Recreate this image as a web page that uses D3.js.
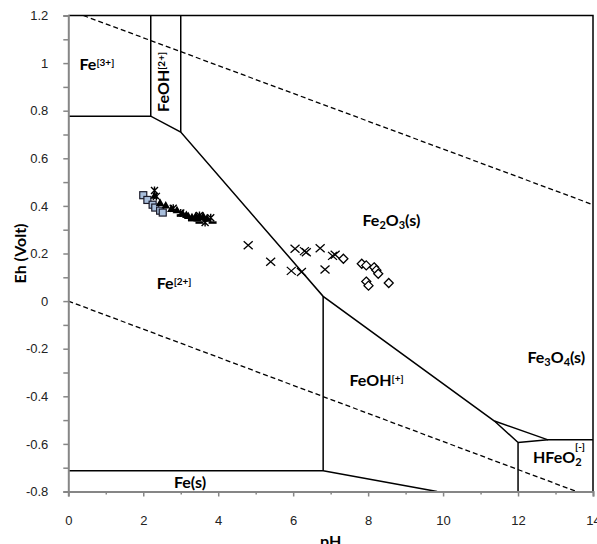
<!DOCTYPE html>
<html lang="en">
<meta charset="utf-8">
<style>
body {
  margin: 0;
  background: #fff;
  font-family: Lato, 'Open Sans', sans-serif;
}
.tick text {
  font-size: 13px;
  fill: #222;
}
.lbl {
  font-weight: bold;
  font-size: 16px;
  fill: #000;
}
</style>
<body>
<div id="chart"></div>
<script src="https://d3js.org/d3.v7.min.js"></script>
<script>

// ---- data (pH, Eh) ----
var squarePH = [2.0, 2.11, 2.25, 2.32, 2.45, 2.52];
var squareEh = [0.445, 0.425, 0.405, 0.393, 0.38, 0.372];

var trianglePH = [2.3, 2.45, 2.6, 2.75, 2.9, 3.05, 3.15, 3.2, 3.3, 3.4, 3.45, 3.5, 3.6, 3.7];
var triangleEh = [0.44, 0.41, 0.40, 0.385, 0.38, 0.365, 0.36, 0.355, 0.35, 0.355, 0.345, 0.35, 0.355, 0.345];

var starPH = [2.3, 2.35, 2.8, 3.0, 3.5, 3.65, 3.8];
var starEh = [0.465, 0.44, 0.39, 0.37, 0.36, 0.33, 0.35];

var dashPH = [3.0, 3.3, 3.5, 3.7, 3.85];
var dashEh = [0.36, 0.34, 0.33, 0.34, 0.33];

var crossPH = [4.8, 5.4, 6.05, 6.3, 6.35, 5.95, 6.22, 6.72, 6.85, 7.05, 7.12];
var crossEh = [0.235, 0.165, 0.22, 0.21, 0.205, 0.127, 0.122, 0.222, 0.133, 0.19, 0.195];

var diamondPH = [7.34, 7.83, 7.95, 8.16, 8.22, 8.27, 7.95, 8.01, 8.55];
var diamondEh = [0.178, 0.157, 0.15, 0.142, 0.13, 0.115, 0.082, 0.065, 0.076];

// stability field boundaries
var boundaries = [
  [[0, 0.777], [2.2, 0.777], [3.0, 0.71], [6.8, 0.02], [11.37, -0.504], [12.0, -0.594]],
  [[2.2, 0.777], [2.2, 1.2]],
  [[3.0, 0.71], [3.0, 1.2]],
  [[6.8, 0.02], [6.8, -0.713]],
  [[0, -0.713], [6.8, -0.713], [9.84, -0.8]],
  [[11.37, -0.504], [12.8, -0.583], [14, -0.583]],
  [[12.0, -0.594], [12.8, -0.583]],
  [[12.0, -0.594], [12.0, -0.8]],
  [[0, 1.2], [14, 1.2], [14, -0.8]]
];

// water stability limits (dashed)
var waterLines = [
  [[0.4, 1.2], [14, 0.405]],
  [[0, 0], [13.56, -0.8]]
];

// field labels: [pH, Eh, parts]
var fieldLabels = [
  [0.3, 0.97, [["Fe", ""], ["[3+]", "sup"]]],
  [2.36, 0.049, [["Fe", ""], ["[2+]", "sup"]]],
  [7.85, 0.315, [["Fe", ""], ["2", "sub"], ["O", ""], ["3", "sub"], ["(s)", ""]]],
  [7.5, -0.355, [["FeOH", ""], ["[+]", "sup"]]],
  [12.25, -0.26, [["Fe", ""], ["3", "sub"], ["O", ""], ["4", "sub"], ["(s)", ""]]],
  [2.82, -0.786, [["Fe(s)", ""]]]
];

var ehMajor = [-0.8, -0.6, -0.4, -0.2, 0, 0.2, 0.4, 0.6, 0.8, 1, 1.2];
var ehMinor = [-0.7, -0.5, -0.3, -0.1, 0.1, 0.3, 0.5, 0.7, 0.9, 1.1];
var phMajor = [0, 2, 4, 6, 8, 10, 12, 14];
var phMinor = [1, 3, 5, 7, 9, 11, 13];

// ---- layout ----
var width = 597, height = 544;
var mLeft = 68.3, mRight = 593, mTop = 15.5, mBottom = 491.5;

var svg = d3.select("#chart").append("svg")
    .attr("width", width)
    .attr("height", height);

var x = d3.scaleLinear().domain([0, 14]).range([mLeft, mRight]);
var y = d3.scaleLinear().domain([-0.8, 1.2]).range([mBottom, mTop]);

var line = d3.line()
    .x(function(d) { return x(d[0]); })
    .y(function(d) { return y(d[1]); });

// water lines
svg.append("g").selectAll("path")
    .data(waterLines)
  .enter().append("path")
    .attr("d", line)
    .attr("fill", "none")
    .attr("stroke", "#000")
    .attr("stroke-width", 1.3)
    .attr("stroke-dasharray", "5,3");

// boundaries
svg.append("g").selectAll("path")
    .data(boundaries)
  .enter().append("path")
    .attr("d", line)
    .attr("fill", "none")
    .attr("stroke", "#000")
    .attr("stroke-width", 1.5);

// axes
function fmt(d) { return String(+d.toFixed(1)); }

svg.append("g")
    .attr("transform", "translate(" + mLeft + ",0)")
    .call(d3.axisLeft(y).tickValues(ehMajor).tickSize(5).tickPadding(15).tickFormat(fmt));
svg.append("g")
    .attr("transform", "translate(" + mLeft + ",0)")
    .call(d3.axisLeft(y).tickValues(ehMinor).tickSize(5).tickFormat(""))
    .select(".domain").remove();

svg.append("g")
    .attr("transform", "translate(0," + mBottom + ")")
    .call(d3.axisBottom(x).tickValues(phMajor).tickSize(5).tickPadding(19).tickFormat(fmt));
svg.append("g")
    .attr("transform", "translate(0," + mBottom + ")")
    .call(d3.axisBottom(x).tickValues(phMinor).tickSize(3).tickFormat(""))
    .select(".domain").remove();

svg.selectAll(".domain").attr("stroke", "#868686").attr("stroke-width", 2);
svg.selectAll(".tick line").attr("stroke", "#868686").attr("stroke-width", 1.5);

// axis titles
svg.append("text")
    .attr("class", "lbl")
    .attr("transform", "translate(26," + ((mTop + mBottom) / 2) + ") rotate(-90)")
    .attr("text-anchor", "middle")
    .text("Eh (Volt)");

svg.append("text")
    .attr("class", "lbl")
    .attr("x", (mLeft + mRight) / 2)
    .attr("y", 547)
    .attr("text-anchor", "middle")
    .text("pH");

// field labels with sub/superscripts
function addParts(t, parts) {
  parts.forEach(function(p) {
    var s = t.append("tspan").text(p[0]);
    if (p[1] === "sup") s.attr("font-size", "10px").attr("baseline-shift", "45%");
    if (p[1] === "sub") s.attr("font-size", "11px").attr("baseline-shift", "-25%");
  });
}

fieldLabels.forEach(function(l) {
  var t = svg.append("text")
      .attr("class", "lbl")
      .attr("x", x(l[0]))
      .attr("y", y(l[1]));
  addParts(t, l[2]);
});

// rotated FeOH2+
var rot = svg.append("text")
    .attr("class", "lbl")
    .attr("transform", "translate(169," + y(0.795) + ") rotate(-90)");
addParts(rot, [["FeOH", ""], ["[2+]", "sup"]]);

// HFeO2 with stacked sub/sup
var hf = svg.append("text")
    .attr("class", "lbl")
    .attr("x", x(12.4))
    .attr("y", y(-0.68));
hf.append("tspan").text("HFeO");
hf.append("tspan").text("2").attr("font-size", "11px").attr("baseline-shift", "-25%");
svg.append("text")
    .attr("x", x(13.52))
    .attr("y", y(-0.625))
    .attr("font-size", "10px")
    .attr("font-weight", "bold")
    .text("[-]");

// ---- markers ----
function pts(ph, eh) {
  return ph.map(function(d, i) { return [d, eh[i]]; });
}
function place(d) { return "translate(" + x(d[0]) + "," + y(d[1]) + ")"; }

var mk = svg.append("g");

mk.selectAll(".sq")
    .data(pts(squarePH, squareEh))
  .enter().append("rect")
    .attr("transform", place)
    .attr("x", -3.5).attr("y", -3.5)
    .attr("width", 7).attr("height", 7)
    .attr("fill", "#a9bfdc")
    .attr("stroke", "#1b1b2a")
    .attr("stroke-width", 1.2);

mk.selectAll(".tri")
    .data(pts(trianglePH, triangleEh))
  .enter().append("path")
    .attr("transform", place)
    .attr("d", d3.symbol().type(d3.symbolTriangle).size(32))
    .attr("fill", "#000");

mk.selectAll(".star")
    .data(pts(starPH, starEh))
  .enter().append("path")
    .attr("transform", place)
    .attr("d", "M-3.5,-3.5L3.5,3.5M-3.5,3.5L3.5,-3.5M0,-4L0,4")
    .attr("stroke", "#000")
    .attr("stroke-width", 1.4);

mk.selectAll(".dash")
    .data(pts(dashPH, dashEh))
  .enter().append("path")
    .attr("transform", place)
    .attr("d", "M-4,0L4,0")
    .attr("stroke", "#000")
    .attr("stroke-width", 2.5);

mk.selectAll(".cross")
    .data(pts(crossPH, crossEh))
  .enter().append("path")
    .attr("transform", place)
    .attr("d", "M-4.5,-4L4.5,4M-4.5,4L4.5,-4")
    .attr("fill", "none")
    .attr("stroke", "#000")
    .attr("stroke-width", 1.3);

mk.selectAll(".dia")
    .data(pts(diamondPH, diamondEh))
  .enter().append("path")
    .attr("transform", place)
    .attr("d", "M0,-4.5L4.5,0L0,4.5L-4.5,0Z")
    .attr("fill", "#fff")
    .attr("stroke", "#000")
    .attr("stroke-width", 1.3);

</script>
</body>
</html>
